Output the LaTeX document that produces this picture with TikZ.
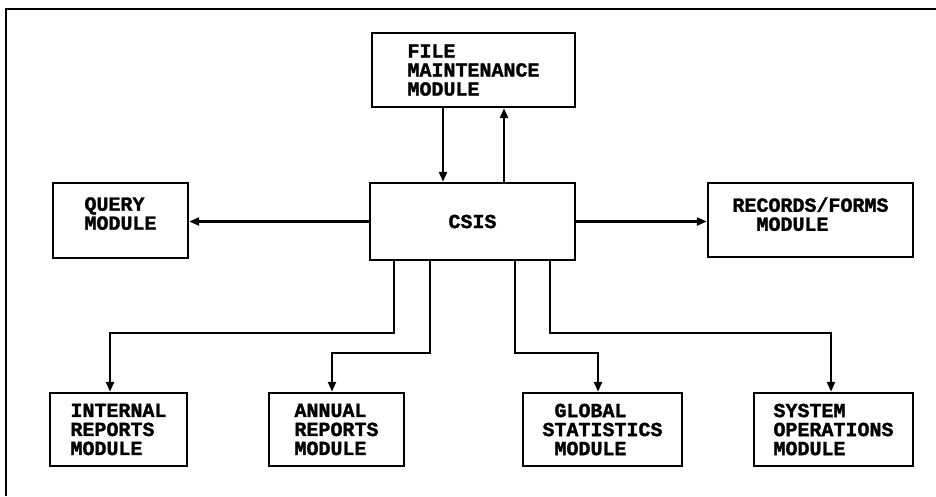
\documentclass[tikz,border=0pt]{standalone}
\usepackage{fontspec}
\newfontfamily\diafont{Liberation Mono}[BoldFeatures={FakeBold=1.5}]
\usetikzlibrary{arrows.meta}
\tikzset{
  modbox/.style={draw, line width=2.4pt, rectangle, align=left, inner sep=0pt,
    font=\diafont\bfseries\fontsize{20}{19}\selectfont},
  arr/.style={line width=2.3pt, -{Triangle[length=10pt,width=8pt]}},
  framel/.style={line width=2pt}
}
\begin{document}
\begin{tikzpicture}[x=1pt,y=-1pt]
\useasboundingbox (0,0) rectangle (936,496);
% frame
\draw[framel] (936,9) -- (6,9) -- (6,496);
% boxes
\node[modbox, minimum width=203pt, minimum height=74pt, text depth=-4pt] (file) at (473.5,70)
  {FILE\\MAINTENANCE\\MODULE};
\node[modbox, minimum width=205pt, minimum height=77pt] (csis) at (472.5,221.5) {CSIS};
\node[modbox, minimum width=135pt, minimum height=75pt, text depth=14pt] (query) at (120.5,220.5)
  {QUERY\\MODULE};
\node[modbox, minimum width=205pt, minimum height=74pt, text depth=12pt] (records) at (810.5,220)
  {RECORDS/FORMS\\\hphantom{RE}MODULE};
\node[modbox, minimum width=137pt, minimum height=73pt] (internal) at (118.5,429.5)
  {INTERNAL\\REPORTS\\MODULE};
\node[modbox, minimum width=135pt, minimum height=73pt] (annual) at (336.5,429.5)
  {ANNUAL\\REPORTS\\MODULE};
\node[modbox, minimum width=159pt, minimum height=73pt] (global) at (602.5,429.5)
  {\hphantom{S}GLOBAL\\STATISTICS\\\hphantom{S}MODULE};
\node[modbox, minimum width=159pt, minimum height=73pt] (system) at (833.5,429.5)
  {SYSTEM\\OPERATIONS\\MODULE};
% column coordinates
\coordinate (fdown) at (443,0);
\coordinate (fup) at (504,0);
\coordinate (k1) at (394,333);
\coordinate (k2) at (430,353);
\coordinate (k3) at (515,353);
\coordinate (k4) at (550,333);
\coordinate (t1) at (110,0);
\coordinate (t2) at (332,0);
\coordinate (t3) at (598,0);
\coordinate (t4) at (831,0);
% connectors
\draw[arr] (file.south -| fdown) -- (csis.north -| fdown);
\draw[arr] (csis.north -| fup) -- (file.south -| fup);
\draw[arr] (csis.west) -- (query.east |- csis.west);
\draw[arr] (csis.east) -- (records.west |- csis.east);
\draw[arr] (csis.south -| k1) -- (k1) -| (internal.north -| t1);
\draw[arr] (csis.south -| k2) -- (k2) -| (annual.north -| t2);
\draw[arr] (csis.south -| k3) -- (k3) -| (global.north -| t3);
\draw[arr] (csis.south -| k4) -- (k4) -| (system.north -| t4);
\end{tikzpicture}
\end{document}
